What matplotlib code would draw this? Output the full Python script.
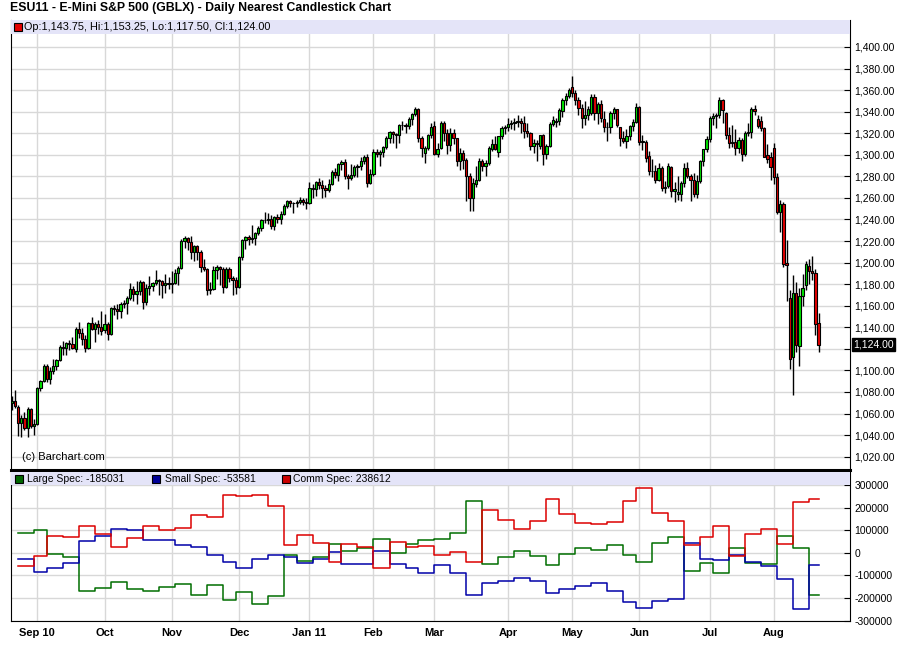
import matplotlib
matplotlib.use('Agg')
import matplotlib.pyplot as plt
import matplotlib.transforms as mtransforms
from matplotlib.ticker import FuncFormatter
import pandas as pd

plt.rcParams['font.family'] = ['Liberation Sans', 'DejaVu Sans']

TITLE = 'ESU11 - E-Mini S&P 500 (GBLX) - Daily Nearest Candlestick Chart'
UP = '#00e400'
DOWN = '#e40000'
GRID = '#d8d8d8'
STRIP = '#e4e4f8'

# trading days shown on the chart (exchange holidays removed)
HOLIDAYS = ['2010-09-06', '2010-11-25', '2010-12-24', '2011-01-17',
            '2011-02-21', '2011-04-22', '2011-05-30', '2011-07-04']
dates = pd.bdate_range('2010-08-20', '2011-08-19')
dates = dates[~dates.isin(pd.to_datetime(HOLIDAYS))]

# daily OHLC, one line per month (Aug 10 ... Aug 11)
opens = [
    1070.0, 1071.5, 1066.0, 1051.0, 1056.0, 1046.5, 1064.0, 1048.0,
    1050.5, 1083.5, 1090.5, 1104.5, 1092.0, 1099.0, 1104.0, 1110.0, 1121.5, 1120.5, 1125.0, 1124.5, 1120.0, 1138.0, 1135.0, 1129.5, 1120.5, 1144.0, 1138.0, 1143.0, 1140.5,
    1137.0, 1143.0, 1134.0, 1157.5, 1156.5, 1155.0, 1162.0, 1162.5, 1167.0, 1175.5, 1171.0, 1173.5, 1182.0, 1163.0, 1176.0, 1178.0, 1181.0, 1183.5, 1183.0, 1179.5, 1181.0,
    1180.5, 1181.5, 1190.5, 1195.0, 1220.0, 1223.0, 1219.5, 1210.0, 1215.0, 1210.0, 1195.5, 1194.0, 1175.0, 1175.5, 1193.0, 1196.0, 1194.0, 1177.0, 1194.5, 1185.5, 1184.0,
    1177.0, 1205.0, 1220.5, 1223.5, 1222.0, 1222.5, 1227.0, 1232.0, 1239.5, 1239.5, 1240.5, 1234.0, 1242.0, 1240.5, 1245.0, 1252.5, 1257.0, 1255.0, 1255.5, 1256.5, 1258.0, 1256.0,
    1255.5, 1269.5, 1268.0, 1274.5, 1271.5, 1269.5, 1267.5, 1272.5, 1284.0, 1281.5, 1291.0, 1293.0, 1280.0, 1278.5, 1281.0, 1289.0, 1289.5, 1294.5, 1297.5, 1274.0,
    1282.0, 1302.5, 1301.0, 1303.0, 1307.5, 1316.0, 1321.5, 1319.5, 1318.5, 1327.5, 1328.0, 1326.5, 1333.5, 1338.0, 1342.0, 1315.5, 1302.0, 1306.0, 1318.5,
    1327.0, 1301.0, 1306.0, 1329.0, 1320.0, 1309.0, 1320.0, 1315.5, 1294.0, 1302.0, 1295.0, 1280.5, 1260.0, 1273.0, 1277.0, 1294.0, 1290.0, 1292.0, 1305.0, 1310.0, 1303.0, 1317.0, 1324.5,
    1325.5, 1328.5, 1329.0, 1330.0, 1331.0, 1329.5, 1322.0, 1320.0, 1308.5, 1310.5, 1308.5, 1318.0, 1301.0, 1308.5, 1328.5, 1330.0, 1331.0, 1341.0, 1351.0, 1354.5,
    1362.5, 1357.5, 1351.0, 1343.0, 1334.0, 1336.5, 1338.5, 1354.0, 1339.0, 1347.0, 1333.0, 1325.5, 1326.0, 1339.0, 1342.0, 1325.5, 1315.5, 1313.0, 1317.0, 1326.5, 1330.0,
    1344.5, 1312.0, 1312.0, 1299.0, 1285.0, 1285.0, 1277.0, 1288.0, 1269.0, 1271.0, 1289.0, 1266.0, 1264.0, 1264.0, 1273.5, 1288.0, 1280.5, 1277.0, 1264.0, 1276.0, 1294.5, 1305.0,
    1315.0, 1334.5, 1336.0, 1336.5, 1351.0, 1339.0, 1318.0, 1311.0, 1312.0, 1306.0, 1314.0, 1300.5, 1320.5, 1321.0, 1342.0, 1333.5, 1331.0, 1325.0, 1299.5, 1298.0,
    1306.5, 1279.0, 1247.0, 1254.0, 1200.0, 1167.0, 1112.0, 1172.0, 1123.0, 1169.0, 1179.0, 1196.5, 1192.0, 1190.0, 1143.75,
]
highs = [
    1076.0, 1081.5, 1067.5, 1058.5, 1061.5, 1066.0, 1065.5, 1054.5,
    1085.0, 1091.5, 1105.5, 1106.0, 1103.5, 1110.5, 1111.0, 1123.5, 1127.5, 1126.5, 1128.0, 1131.0, 1140.0, 1145.0, 1139.5, 1132.5, 1145.0, 1149.5, 1145.0, 1146.5, 1155.0,
    1152.0, 1145.0, 1159.0, 1161.0, 1162.0, 1163.5, 1165.5, 1169.0, 1181.0, 1178.0, 1183.0, 1183.5, 1183.0, 1180.5, 1188.0, 1182.0, 1193.0, 1185.0, 1184.0, 1189.0, 1186.5,
    1192.0, 1194.0, 1197.0, 1221.5, 1225.0, 1223.5, 1224.5, 1216.5, 1216.0, 1212.0, 1203.0, 1195.0, 1182.0, 1197.0, 1197.5, 1197.0, 1195.5, 1196.0, 1195.5, 1187.5, 1187.0,
    1206.5, 1222.0, 1224.5, 1225.5, 1235.0, 1228.5, 1234.0, 1240.5, 1246.5, 1246.0, 1244.5, 1243.0, 1245.5, 1247.5, 1254.0, 1258.0, 1258.5, 1256.5, 1258.5, 1260.5, 1260.0, 1259.5,
    1274.5, 1273.0, 1275.5, 1278.0, 1276.5, 1271.5, 1277.5, 1286.0, 1287.5, 1292.0, 1295.0, 1296.0, 1282.0, 1291.0, 1290.5, 1291.5, 1297.5, 1300.0, 1300.5, 1287.0,
    1305.5, 1305.0, 1304.0, 1308.5, 1317.5, 1322.0, 1322.5, 1320.5, 1328.5, 1331.0, 1329.5, 1335.0, 1339.0, 1344.0, 1343.0, 1317.5, 1308.5, 1319.5, 1329.0,
    1331.0, 1311.0, 1331.0, 1331.5, 1324.0, 1324.5, 1323.5, 1316.0, 1306.5, 1304.5, 1297.0, 1283.0, 1278.5, 1290.0, 1297.0, 1296.0, 1295.0, 1308.5, 1315.0, 1317.0, 1317.5, 1327.0, 1328.0,
    1334.5, 1332.0, 1334.0, 1336.5, 1334.5, 1335.5, 1329.0, 1321.5, 1314.5, 1314.0, 1318.5, 1319.5, 1310.0, 1330.0, 1336.0, 1334.5, 1343.5, 1352.5, 1357.0, 1361.5,
    1373.0, 1360.0, 1354.0, 1347.5, 1349.5, 1345.0, 1356.0, 1356.5, 1348.5, 1351.0, 1340.5, 1330.0, 1341.0, 1344.0, 1342.5, 1326.0, 1322.0, 1323.5, 1328.0, 1333.0, 1348.0,
    1345.5, 1318.0, 1313.5, 1303.5, 1296.5, 1290.5, 1292.0, 1289.5, 1275.5, 1292.5, 1290.0, 1275.0, 1280.0, 1276.0, 1292.0, 1293.0, 1282.5, 1283.0, 1281.5, 1295.5, 1305.5, 1317.0,
    1336.0, 1338.5, 1339.0, 1354.0, 1352.0, 1340.0, 1325.5, 1327.5, 1324.0, 1316.5, 1315.5, 1322.5, 1329.0, 1344.5, 1346.5, 1336.5, 1335.5, 1326.0, 1310.0, 1302.5,
    1311.0, 1283.0, 1258.0, 1256.0, 1221.0, 1174.5, 1188.5, 1182.0, 1176.0, 1189.0, 1201.0, 1203.0, 1206.0, 1194.0, 1153.25,
]
lows = [
    1063.5, 1065.0, 1039.5, 1038.0, 1045.0, 1038.5, 1046.5, 1040.0,
    1049.5, 1080.5, 1089.0, 1089.5, 1087.5, 1097.0, 1100.5, 1108.5, 1114.5, 1114.0, 1118.5, 1120.0, 1117.5, 1130.5, 1124.0, 1117.5, 1119.5, 1137.5, 1126.0, 1134.0, 1133.0,
    1135.0, 1128.0, 1133.0, 1151.0, 1147.5, 1148.5, 1158.0, 1152.5, 1165.5, 1164.0, 1162.0, 1170.0, 1157.0, 1160.5, 1169.5, 1174.0, 1179.0, 1169.5, 1167.0, 1172.0, 1175.5,
    1172.0, 1180.0, 1179.0, 1194.0, 1213.5, 1212.0, 1203.5, 1201.5, 1202.0, 1191.0, 1192.5, 1170.0, 1170.5, 1174.5, 1185.0, 1179.0, 1172.0, 1176.5, 1182.0, 1169.5, 1170.5,
    1176.5, 1202.5, 1212.5, 1216.5, 1218.5, 1216.0, 1225.5, 1229.5, 1237.0, 1235.5, 1231.0, 1230.5, 1237.0, 1235.5, 1244.0, 1250.5, 1252.0, 1246.0, 1251.5, 1254.5, 1253.0, 1250.0,
    1254.0, 1260.0, 1262.0, 1268.5, 1259.5, 1260.5, 1265.0, 1271.5, 1278.5, 1276.0, 1285.5, 1277.5, 1268.0, 1277.0, 1279.0, 1279.0, 1285.5, 1291.0, 1270.0, 1273.0,
    1280.5, 1297.5, 1290.0, 1298.0, 1305.5, 1311.0, 1311.0, 1306.0, 1310.5, 1323.0, 1320.5, 1324.0, 1328.0, 1335.5, 1312.0, 1297.5, 1292.0, 1304.5, 1316.0,
    1299.5, 1298.0, 1305.0, 1312.5, 1301.0, 1303.5, 1310.0, 1290.0, 1285.5, 1286.5, 1257.0, 1248.0, 1247.5, 1270.5, 1275.5, 1284.5, 1280.5, 1290.5, 1303.5, 1304.0, 1297.5, 1315.0, 1319.5,
    1322.5, 1323.5, 1323.0, 1325.5, 1320.0, 1316.0, 1316.5, 1304.5, 1302.0, 1294.5, 1305.5, 1290.5, 1296.5, 1307.5, 1326.5, 1326.0, 1327.5, 1335.0, 1346.0, 1352.5,
    1353.5, 1346.5, 1336.5, 1324.5, 1327.5, 1332.5, 1337.0, 1332.5, 1328.5, 1330.0, 1321.5, 1313.0, 1320.5, 1333.5, 1325.5, 1308.5, 1311.0, 1306.5, 1313.5, 1322.5, 1329.5,
    1309.5, 1304.0, 1293.0, 1281.5, 1279.5, 1274.0, 1275.5, 1266.0, 1264.5, 1269.5, 1260.5, 1256.0, 1258.0, 1257.5, 1270.0, 1278.0, 1257.5, 1260.5, 1260.0, 1273.5, 1289.5, 1302.5,
    1311.5, 1328.0, 1325.0, 1334.5, 1329.0, 1314.5, 1306.5, 1307.0, 1299.5, 1302.0, 1294.5, 1299.0, 1317.5, 1316.0, 1336.5, 1325.0, 1322.5, 1297.5, 1292.0, 1276.5,
    1272.5, 1245.5, 1228.0, 1195.5, 1164.5, 1101.5, 1077.0, 1117.0, 1104.0, 1160.0, 1174.5, 1180.0, 1184.0, 1133.0, 1117.50,
]
closes = [
    1071.5, 1066.5, 1051.0, 1055.5, 1046.5, 1064.5, 1048.0, 1050.5,
    1083.5, 1090.5, 1104.5, 1092.0, 1099.0, 1104.0, 1110.0, 1121.5, 1121.0, 1125.0, 1124.5, 1121.0, 1138.0, 1135.0, 1129.5, 1120.5, 1144.0, 1138.0, 1143.0, 1140.5, 1136.5,
    1143.0, 1134.0, 1157.5, 1156.5, 1155.0, 1162.0, 1162.5, 1167.0, 1175.5, 1171.0, 1173.5, 1182.0, 1163.0, 1176.0, 1178.0, 1181.0, 1183.5, 1183.0, 1179.5, 1181.0, 1180.5,
    1181.5, 1190.5, 1195.0, 1220.0, 1223.0, 1219.5, 1210.0, 1215.0, 1210.0, 1195.5, 1194.0, 1175.0, 1175.5, 1193.0, 1196.0, 1194.0, 1177.0, 1194.5, 1185.5, 1184.0, 1177.0,
    1205.0, 1220.5, 1223.5, 1222.0, 1222.5, 1227.0, 1232.0, 1239.5, 1239.5, 1240.5, 1234.0, 1242.0, 1240.5, 1245.0, 1252.5, 1257.0, 1255.0, 1255.5, 1256.5, 1258.0, 1256.0, 1255.5,
    1269.5, 1268.0, 1274.5, 1271.5, 1269.5, 1267.5, 1272.5, 1284.0, 1281.5, 1291.0, 1293.0, 1280.0, 1278.5, 1281.0, 1289.0, 1289.5, 1294.5, 1297.5, 1274.0, 1282.0,
    1302.5, 1301.0, 1303.0, 1307.5, 1316.0, 1321.5, 1319.5, 1318.5, 1327.5, 1328.0, 1326.5, 1333.5, 1338.0, 1342.0, 1315.5, 1306.0, 1306.0, 1318.5, 1326.0,
    1301.0, 1305.0, 1329.0, 1320.0, 1309.0, 1320.0, 1315.5, 1294.0, 1302.0, 1295.0, 1280.5, 1260.0, 1274.0, 1277.0, 1294.0, 1290.0, 1292.5, 1306.0, 1310.0, 1305.0, 1317.0, 1324.5, 1325.5,
    1328.5, 1329.0, 1330.0, 1331.0, 1329.5, 1322.0, 1320.0, 1308.5, 1310.5, 1310.0, 1318.0, 1301.0, 1308.5, 1328.5, 1332.5, 1331.0, 1341.5, 1351.0, 1354.5, 1360.0,
    1357.5, 1351.0, 1343.0, 1334.5, 1336.5, 1342.5, 1354.0, 1339.0, 1347.0, 1334.0, 1325.5, 1326.0, 1339.0, 1342.0, 1327.5, 1315.5, 1313.0, 1317.0, 1326.5, 1330.0, 1344.5,
    1312.0, 1313.0, 1297.0, 1285.0, 1284.5, 1276.5, 1288.0, 1269.0, 1270.5, 1289.5, 1266.0, 1268.0, 1265.0, 1273.5, 1288.0, 1280.5, 1277.0, 1264.0, 1276.0, 1294.5, 1305.0, 1315.0,
    1334.5, 1336.0, 1336.5, 1351.0, 1341.5, 1318.0, 1311.0, 1312.0, 1306.0, 1314.0, 1300.5, 1320.5, 1321.5, 1342.0, 1341.0, 1326.5, 1325.0, 1298.0, 1296.5, 1288.5,
    1279.0, 1247.0, 1254.5, 1199.0, 1198.0, 1110.5, 1172.0, 1124.0, 1169.0, 1176.5, 1199.0, 1192.0, 1190.0, 1143.0, 1124.00,
]

# weekly commitments of traders, net positions (report Tuesdays)
cot_weeks = pd.date_range('2010-08-24', '2011-08-16', freq='7D')
large_spec = [88500, 100000, -4400, -17700, -166700, -155000, -128000, -158000, -167000, -150000,
              -137000, -186000, -142000, -206500, -172500, -225700, -190000, -10300, -34000, -17700,
              39800, 10300, 22000, 62000, 1500, 40000, 57500, 62000, 88500, 230000,
              -48700, -17700, 8850, -13300, -53100, -4400, 22000, 13300, 35400, -10300,
              -39800, 45700, 70800, -79600, -44200, -88500, 22000, -44200, -50000, 73700,
              22000, -185031]
small_spec = [-26500, -84000, -66400, -44200, 53100, 73700, 106000, 102000, 57500, 57500,
              35400, 26500, -10300, -39800, -66400, -26500, -10300, -17700, -45600, -26500,
              3000, -50100, -48500, 8850, -50200, -66500, -88500, -53000, -88500, -186000,
              -133000, -124000, -112000, -124000, -177000, -159000, -146000, -133000, -168000, -217000,
              -242000, -212000, -202000, 44200, -26500, -31000, -10300, -39800, -57500, -115000,
              -248000, -53581]
comm_spec = [-57500, -13300, 73700, 69300, 119500, 84000, 26500, 66400, 119500, 102000,
             110600, 168000, 159000, 256500, 249000, 256500, 208000, 35400, 79600, 44200,
             -39800, 39800, 26500, -66400, 48700, 26500, 31000, -8850, 4400, -39800,
             190000, 146000, 106000, 141600, 239000, 172600, 132700, 128300, 137000, 230000,
             287600, 177000, 140000, 35400, 70700, 119500, -11700, 84000, 107500, 41300,
             226000, 238612]

MONTH_LABELS = ['Sep 10', 'Oct', 'Nov', 'Dec', 'Jan 11', 'Feb', 'Mar', 'Apr',
                'May', 'Jun', 'Jul', 'Aug']

xpos = list(range(len(dates)))
month_pos = [i for i in xpos[1:] if dates[i].month != dates[i - 1].month]
last = closes[-1]


def price_label(v, pos):
    # the last-price box covers the tick label nearest to it
    if abs(v - last) < 10:
        return ''
    return f'{v:,.2f}'


fig = plt.figure(figsize=(9, 6.62), dpi=100)
price = fig.add_axes([11 / 900, 1 - 470 / 662, 839 / 900, 450 / 662])
cot = fig.add_axes([11 / 900, 1 - 621 / 662, 839 / 900, 151 / 662], sharex=price)

fig.text(10 / 900, 1 - 8 / 662, TITLE, fontsize=8.8, fontweight='bold', va='center')

# candles
colors = [UP if c > o else DOWN for o, c in zip(opens, closes)]
bottoms = [min(o, c) for o, c in zip(opens, closes)]
heights = [abs(c - o) for o, c in zip(opens, closes)]
price.vlines(xpos, lows, highs, color='black', linewidth=1.0, zorder=2)
price.bar(xpos, heights, bottom=bottoms, width=0.7, color=colors,
          edgecolor='black', linewidth=0.8, zorder=3)

price.set_xlim(-0.2, 261.8)
price.set_ylim(1007.6, 1425)
price.set_yticks(range(1020, 1401, 20))
price.yaxis.tick_right()
price.yaxis.set_major_formatter(FuncFormatter(price_label))
price.tick_params(axis='y', direction='in', length=4, pad=3, labelsize=7.5)
price.set_xticks(month_pos)
price.tick_params(axis='x', length=0, labelbottom=False)
price.grid(True, color=GRID, linewidth=1)
price.set_axisbelow(True)
for side in ['top', 'bottom']:
    price.spines[side].set_visible(False)

# legend strip of the price panel
strip = plt.Rectangle((0, 1 - 14 / 450), 1, 14 / 450, transform=price.transAxes,
                      facecolor=STRIP, edgecolor='none', zorder=4)
price.add_patch(strip)
price.plot([6.5 / 839], [1 - 7 / 450], marker='s', ms=5.5, mfc=DOWN, mec='black',
           mew=0.8, transform=price.transAxes, zorder=5, clip_on=False)
price.text(13 / 839, 1 - 7 / 450,
           f'Op:{opens[-1]:,.2f}, Hi:{highs[-1]:,.2f}, Lo:{lows[-1]:,.2f}, Cl:{closes[-1]:,.2f}',
           transform=price.transAxes, fontsize=7.8, va='center', zorder=5)
price.text(11.5 / 839, 1 - 437 / 450, '(c) Barchart.com', transform=price.transAxes,
           fontsize=8, va='center')

# last price marker on the right axis
trans = mtransforms.blended_transform_factory(price.transAxes, price.transData)
price.text(1.004, last, f'{last:,.2f}', transform=trans, color='white',
           fontsize=7.5, va='center', ha='left',
           bbox=dict(boxstyle='square,pad=0.12', facecolor='black', edgecolor='black'))

# COT panel
week_pos = [dates.get_loc(d) for d in cot_weeks]
step_x = week_pos + [xpos[-1]]
for vals, col in [(large_spec, '#006e00'), (small_spec, '#0000a8'), (comm_spec, '#dc0000')]:
    cot.step(step_x, vals + [vals[-1]], where='post', color=col, linewidth=1.1, zorder=3)

cot.set_ylim(-301000, 366000)
cot.set_yticks(range(-300000, 300001, 100000))
cot.yaxis.tick_right()
cot.yaxis.set_major_formatter(FuncFormatter(lambda v, p: f'{int(v)}'))
cot.tick_params(axis='y', direction='in', length=4, pad=3, labelsize=7.5)
cot.set_xticks(month_pos)
cot.set_xticklabels(MONTH_LABELS, fontweight='bold', fontsize=8)
cot.tick_params(axis='x', length=0, pad=5)
cot.grid(True, color=GRID, linewidth=1)
cot.set_axisbelow(True)
cot.spines['top'].set_linewidth(2.2)

cot_strip = plt.Rectangle((0, 1 - 15 / 151), 1, 13 / 151, transform=cot.transAxes,
                          facecolor=STRIP, edgecolor='none', zorder=4)
cot.add_patch(cot_strip)
legend_items = [(8 / 839, 16 / 839, '#006600', f'Large Spec: {large_spec[-1]}'),
                (145 / 839, 154 / 839, '#000099', f'Small Spec: {small_spec[-1]}'),
                (274.5 / 839, 282 / 839, '#cc0000', f'Comm Spec: {comm_spec[-1]}')]
for mx, tx, col, label in legend_items:
    cot.plot([mx], [1 - 9 / 151], marker='s', ms=5.5, mfc=col, mec='black', mew=0.8,
             transform=cot.transAxes, zorder=5, clip_on=False)
    cot.text(tx, 1 - 9 / 151, label, transform=cot.transAxes, fontsize=7.5,
             va='center', zorder=5)

fig.savefig('out.png', dpi=100)
